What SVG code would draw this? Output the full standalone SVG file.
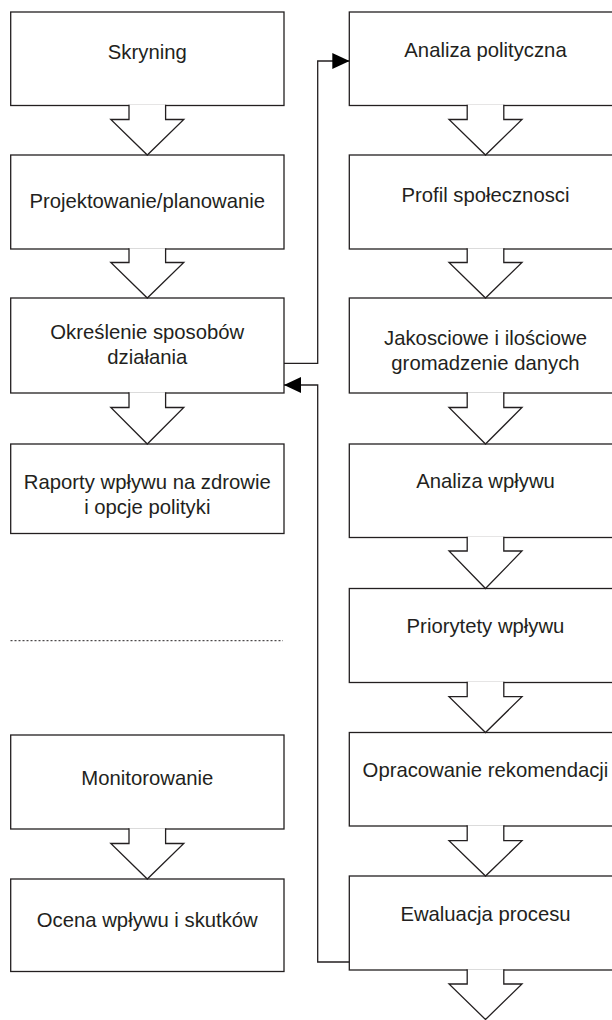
<svg xmlns="http://www.w3.org/2000/svg" width="612" height="1020" viewBox="0 0 612 1020">
<style>
.box{fill:#fff;stroke:#231f20;stroke-width:1.3}
.arr{fill:#fff;stroke:#231f20;stroke-width:1.3;stroke-linejoin:miter}
.t{font-family:"Liberation Sans",Arial,sans-serif;font-size:20.3px;fill:#231f20;text-anchor:middle}
.con{fill:none;stroke:#231f20;stroke-width:1.3}
.dot{stroke:#231f20;stroke-width:1;stroke-dasharray:2 2}
</style>
<defs>
<marker id="ah" markerWidth="17" markerHeight="16" refX="17" refY="8" orient="auto" markerUnits="userSpaceOnUse">
<path d="M0,0 L17,8 L0,16 Z" fill="#000"/>
</marker>
</defs>
<rect width="612" height="1020" fill="#fff"/>

<g id="n-skryning">
<rect class="box" x="10.7" y="12" width="273.3" height="93.5"/>
<text class="t" x="147.3" y="58.7">Skryning</text>
</g>
<g id="n-projektowanie">
<rect class="box" x="10.7" y="155" width="273.3" height="94"/>
<text class="t" x="147.3" y="208">Projektowanie/planowanie</text>
</g>
<g id="n-okreslenie">
<rect class="box" x="10.7" y="298" width="273.3" height="95"/>
<text class="t" x="147.3" y="339.3">Określenie sposobów</text>
<text class="t" x="147.3" y="364">działania</text>
</g>
<g id="n-raporty">
<rect class="box" x="10.7" y="444" width="273.3" height="89.5"/>
<text class="t" x="147.3" y="489.3">Raporty wpływu na zdrowie</text>
<text class="t" x="147.3" y="514">i opcje polityki</text>
</g>
<g id="n-monitorowanie">
<rect class="box" x="10.7" y="735" width="273.3" height="94"/>
<text class="t" x="147.3" y="785.3">Monitorowanie</text>
</g>
<g id="n-ocena">
<rect class="box" x="10.7" y="879" width="273.3" height="92.5"/>
<text class="t" x="147.3" y="926.7">Ocena wpływu i skutków</text>
</g>

<g id="n-analiza-polityczna">
<rect class="box" x="349.3" y="12" width="273" height="93.5"/>
<text class="t" x="485.5" y="57.3">Analiza polityczna</text>
</g>
<g id="n-profil">
<rect class="box" x="349.3" y="155" width="273" height="94"/>
<text class="t" x="485.5" y="201.7">Profil społecznosci</text>
</g>
<g id="n-jakosciowe">
<rect class="box" x="349.3" y="298" width="273" height="95"/>
<text class="t" x="485.5" y="345">Jakosciowe i ilościowe</text>
<text class="t" x="485.5" y="370">gromadzenie danych</text>
</g>
<g id="n-analiza-wplywu">
<rect class="box" x="349.3" y="444" width="273" height="93.5"/>
<text class="t" x="485.5" y="488.3">Analiza wpływu</text>
</g>
<g id="n-priorytety">
<rect class="box" x="349.3" y="588.5" width="273" height="94"/>
<text class="t" x="485.5" y="633.3">Priorytety wpływu</text>
</g>
<g id="n-opracowanie">
<rect class="box" x="349.3" y="732.5" width="273" height="93.5"/>
<text class="t" x="485.5" y="777.3">Opracowanie rekomendacji</text>
</g>
<g id="n-ewaluacja">
<rect class="box" x="349.3" y="876" width="273" height="94"/>
<text class="t" x="485.5" y="921">Ewaluacja procesu</text>
</g>

<line class="dot" x1="10.5" y1="640.7" x2="283" y2="640.7"/>

<g id="connectors">
<polyline class="arr" points="129,104.8 129,119.5 110.8,119.5 147.3,155 183.8,119.5 165.6,119.5 165.6,104.8"/>
<polyline class="arr" points="129,248.3 129,262.5 110.8,262.5 147.3,298 183.8,262.5 165.6,262.5 165.6,248.3"/>
<polyline class="arr" points="129,392.3 129,407.5 110.8,407.5 147.3,444 183.8,407.5 165.6,407.5 165.6,392.3"/>
<polyline class="arr" points="129,828.3 129,843.5 110.8,843.5 147.3,879 183.8,843.5 165.6,843.5 165.6,828.3"/>

<polyline class="arr" points="467.2,104.8 467.2,119.5 449,119.5 485.5,155 522,119.5 503.8,119.5 503.8,104.8"/>
<polyline class="arr" points="467.2,248.3 467.2,262.5 449,262.5 485.5,298 522,262.5 503.8,262.5 503.8,248.3"/>
<polyline class="arr" points="467.2,392.3 467.2,407.5 449,407.5 485.5,444 522,407.5 503.8,407.5 503.8,392.3"/>
<polyline class="arr" points="467.2,536.8 467.2,551 449,551 485.5,588.5 522,551 503.8,551 503.8,536.8"/>
<polyline class="arr" points="467.2,681.8 467.2,696.7 449,696.7 485.5,732.5 522,696.7 503.8,696.7 503.8,681.8"/>
<polyline class="arr" points="467.2,825.3 467.2,840.7 449,840.7 485.5,876 522,840.7 503.8,840.7 503.8,825.3"/>
<polyline class="arr" points="467.2,969.3 467.2,984 449,984 485.5,1019.5 522,984 503.8,984 503.8,969.3"/>

<polyline class="con" points="284,363.3 317.7,363.3 317.7,61 349.3,61" marker-end="url(#ah)"/>
<polyline class="con" points="349.3,962 317.7,962 317.7,385 284,385" marker-end="url(#ah)"/>
</g>
</svg>
